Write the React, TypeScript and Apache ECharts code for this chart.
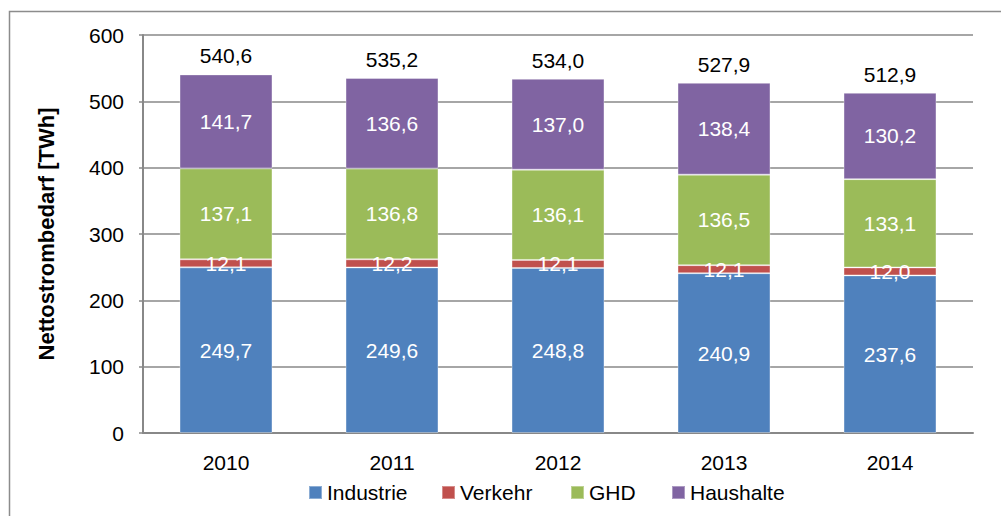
import React, { useEffect, useRef } from "react";
import * as echarts from "echarts";

const years = ["2010", "2011", "2012", "2013", "2014"];
const industrie = [249.7, 249.6, 248.8, 240.9, 237.6];
const verkehr = [12.1, 12.2, 12.1, 12.1, 12.0];
const ghd = [137.1, 136.8, 136.1, 136.5, 133.1];
const haushalte = [141.7, 136.6, 137.0, 138.4, 130.2];
const totals = [540.6, 535.2, 534.0, 527.9, 512.9];
const yTicks = [0, 100, 200, 300, 400, 500, 600];
const seriesNames = ["Industrie", "Verkehr", "GHD", "Haushalte"];

const FONT = "'Liberation Sans', Arial, sans-serif";
const FS = 21;
const fmt = (v: number) => v.toFixed(1).replace(".", ",");

export default function App() {
  const ref = useRef<HTMLDivElement>(null);
  useEffect(() => {
    const chart = echarts.init(ref.current!, undefined, { renderer: "svg" });
    const inner = {
      show: true,
      position: "inside" as const,
      color: "#fff",
      fontSize: FS,
      fontFamily: FONT,
      formatter: (p: any) => fmt(p.value),
    };
    const mk = (name: string, data: number[], color: string) => ({
      name,
      type: "bar",
      stack: "s",
      data,
      barWidth: "56%",
      itemStyle: { color, borderColor: "rgba(255,255,255,0.35)", borderWidth: 1 },
      label: inner,
      emphasis: { disabled: true },
    });
    const legendLefts = [303, 436, 565, 666];
    chart.setOption({
      animation: false,
      textStyle: { fontFamily: FONT },
      graphic: [
        {
          type: "rect",
          shape: { x: 9.5, y: 11.5, width: 1200, height: 700 },
          style: { fill: "none", stroke: "#8c8c8c", lineWidth: 1.5 },
          silent: true,
        },
      ],
      legend: seriesNames.map((n, i) => ({
        left: legendLefts[i],
        top: 477,
        icon: "rect",
        itemWidth: 13,
        itemHeight: 13,
        itemGap: 5,
        textStyle: { fontSize: FS, color: "#000", fontFamily: FONT },
        data: [n],
      })),
      grid: { left: 143, right: 28, top: 35, bottom: 83 },
      xAxis: {
        type: "category",
        data: years,
        axisLine: { lineStyle: { color: "#888", width: 2 } },
        axisTick: { show: false },
        axisLabel: { color: "#000", fontSize: FS, margin: 19, fontFamily: FONT },
      },
      yAxis: {
        type: "value",
        min: yTicks[0],
        max: yTicks[yTicks.length - 1],
        interval: 100,
        name: "Nettostrombedarf [TWh]",
        nameLocation: "middle",
        nameGap: 86,
        nameTextStyle: { fontSize: 22, fontWeight: "bold", color: "#000", fontFamily: FONT },
        axisLine: { show: true, lineStyle: { color: "#888", width: 2 } },
        axisTick: { show: true, length: 4, lineStyle: { color: "#888", width: 1.5 } },
        axisLabel: { color: "#000", fontSize: FS, margin: 19, fontFamily: FONT },
        splitLine: { lineStyle: { color: "#888", width: 1.5 } },
      },
      series: [
        mk("Industrie", industrie, "#4F81BD"),
        mk("Verkehr", verkehr, "#C0504D"),
        mk("GHD", ghd, "#9BBB59"),
        mk("Haushalte", haushalte, "#8064A2"),
        {
          name: "Gesamt",
          type: "bar",
          stack: "s",
          data: totals.map(() => 0),
          barWidth: "56%",
          itemStyle: { color: "transparent" },
          label: {
            show: true,
            position: "top",
            distance: 8,
            color: "#000",
            fontSize: FS,
            fontFamily: FONT,
            formatter: (p: any) => fmt(totals[p.dataIndex]),
          },
          emphasis: { disabled: true },
        },
      ],
    });
    return () => chart.dispose();
  }, []);
  return (
    <div
      ref={ref}
      style={{ position: "absolute", left: 0, top: 0, width: 1001, height: 516, background: "#fff" }}
    />
  );
}
